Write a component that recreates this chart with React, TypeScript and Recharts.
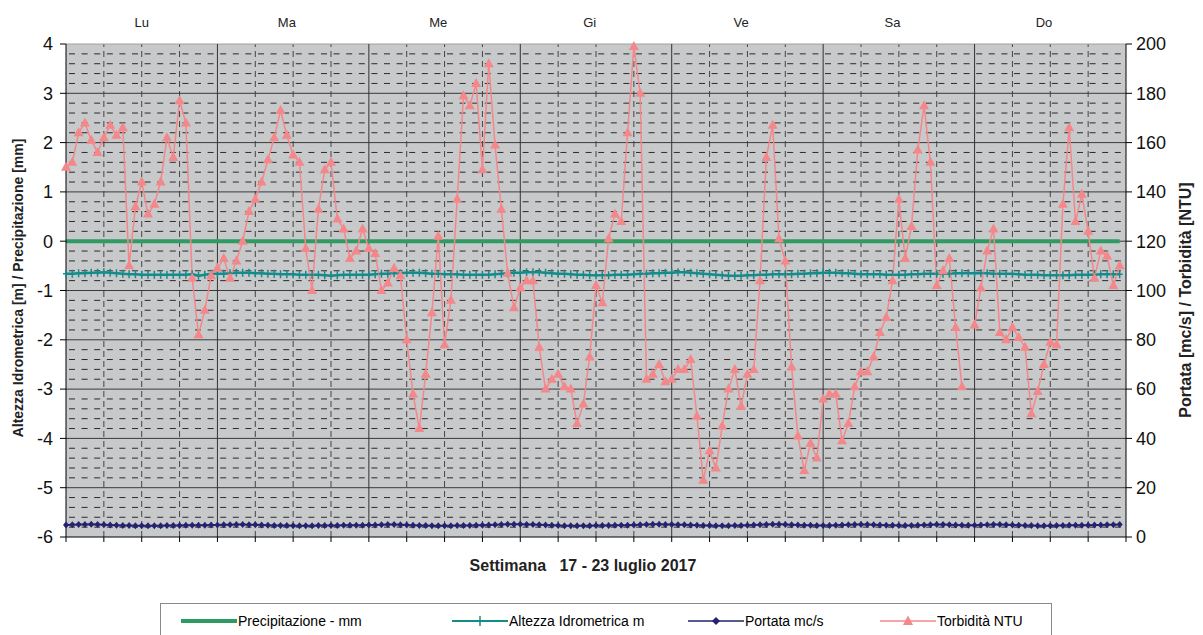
import React from "react";
import {
  ComposedChart,
  Line,
  XAxis,
  YAxis,
  CartesianGrid,
  ReferenceLine,
} from "recharts";

const days = ["Lu", "Ma", "Me", "Gi", "Ve", "Sa", "Do"];
// hour at which each day label sits on the top axis
const dayLabelHours = [12, 35, 59, 83, 107, 131, 155];

// Torbidità NTU, one value per hour (7 x 24)
const torbidita: (number | null)[] = [
  150, 152, 164, 168, 161, 156, 162, 167, 163, 166, 110, 134, 144, 131, 135, 144, 162, 154, 177, 168, 105, 82, 92, 106,
  109, 113, 105, 112, 120, 132, 137, 144, 153, 162, 173, 163, 155, 152, 117, 100, 133, 149, 152, 129, 125, 113, 116, 125,
  117, 115, 100, 103, 109, 106, 80, 58, 44, 66, 91, 122, 78, 96, 137, 179, 175, 184, 149, 192, 159, 133, 107, 93,
  101, 104, 104, 77, 60, 64, 66, 61, 60, 46, 54, 73, 102, 95, 121, 131, 128, 164, 199, 180, 64, 66, 70, 63,
  64, 68, 68, 72, 49, 23, 35, 28, 45, 60, 68, 53, 66, 68, 104, 154, 167, 121, 112, 69, 41, 27, 38, 32,
  56, 58, 58, 39, 46, 61, 67, 67, 73, 83, 89, 104, 137, 113, 126, 157, 175, 152, 102, 108, 113, 85, 61, null,
  86, 101, 116, 125, 83, 80, 85, 81, 77, 50, 59, 70, 79, 78, 135, 166, 128, 139, 124, 105, 116, 114, 102, 110,
];

// Altezza Idrometrica m
const altezza = [
  -0.66, -0.66, -0.65, -0.65, -0.64, -0.64, -0.63, -0.64, -0.65, -0.66, -0.67, -0.67, -0.68, -0.68, -0.68, -0.68, -0.68, -0.68, -0.68, -0.68, -0.67, -0.7, -0.68, -0.66,
  -0.66, -0.66, -0.65, -0.64, -0.64, -0.64, -0.65, -0.65, -0.66, -0.66, -0.67, -0.67, -0.67, -0.68, -0.68, -0.68, -0.68, -0.69, -0.7, -0.69, -0.68, -0.68, -0.68, -0.68,
  -0.68, -0.67, -0.66, -0.66, -0.65, -0.65, -0.64, -0.64, -0.64, -0.65, -0.66, -0.66, -0.67, -0.67, -0.67, -0.68, -0.68, -0.68, -0.68, -0.68, -0.67, -0.66, -0.65, -0.64,
  -0.64, -0.63, -0.63, -0.63, -0.64, -0.65, -0.66, -0.66, -0.67, -0.68, -0.68, -0.69, -0.69, -0.69, -0.69, -0.68, -0.68, -0.68, -0.67, -0.66, -0.66, -0.65, -0.65, -0.64,
  -0.64, -0.63, -0.63, -0.64, -0.65, -0.66, -0.67, -0.68, -0.69, -0.7, -0.7, -0.7, -0.69, -0.69, -0.68, -0.68, -0.67, -0.67, -0.67, -0.67, -0.66, -0.66, -0.65, -0.65,
  -0.64, -0.64, -0.64, -0.65, -0.65, -0.66, -0.67, -0.67, -0.67, -0.67, -0.68, -0.68, -0.68, -0.68, -0.67, -0.67, -0.66, -0.66, -0.66, -0.66, -0.66, -0.65, -0.65, -0.65,
  -0.65, -0.65, -0.65, -0.66, -0.66, -0.66, -0.66, -0.67, -0.68, -0.68, -0.68, -0.69, -0.69, -0.69, -0.69, -0.69, -0.68, -0.68, -0.68, -0.68, -0.67, -0.67, -0.67, -0.67,
];

// Portata mc/s
const portata = [
  4.9, 5.0, 5.1, 5.1, 5.2, 5.1, 5.0, 4.9, 4.8, 4.7, 4.7, 4.6, 4.6, 4.6, 4.6, 4.6, 4.7, 4.7, 4.7, 4.8, 4.8, 4.8, 4.8, 4.9,
  4.9, 5.0, 5.0, 5.1, 5.1, 5.0, 5.0, 4.9, 4.8, 4.7, 4.7, 4.7, 4.6, 4.6, 4.6, 4.6, 4.7, 4.7, 4.7, 4.7, 4.8, 4.8, 4.8, 4.8,
  4.9, 4.9, 5.0, 5.1, 5.1, 5.0, 4.9, 4.8, 4.7, 4.7, 4.6, 4.6, 4.6, 4.6, 4.7, 4.7, 4.7, 4.8, 4.8, 4.9, 5.0, 5.1, 5.2, 5.2,
  5.2, 5.1, 5.1, 5.0, 4.9, 4.8, 4.7, 4.6, 4.6, 4.6, 4.6, 4.6, 4.7, 4.7, 4.7, 4.8, 4.8, 4.8, 4.9, 5.0, 5.1, 5.2, 5.2, 5.1,
  5.1, 5.0, 5.0, 4.9, 4.8, 4.7, 4.7, 4.6, 4.6, 4.6, 4.7, 4.7, 4.8, 4.9, 5.0, 5.1, 5.2, 5.2, 5.1, 5.0, 4.9, 4.8, 4.8, 4.7,
  4.7, 4.7, 4.8, 4.9, 5.0, 5.1, 5.1, 5.1, 5.0, 4.9, 4.8, 4.8, 4.7, 4.7, 4.7, 4.8, 4.9, 5.0, 5.1, 5.1, 5.0, 4.9, 4.8, 4.8,
  4.8, 4.9, 5.0, 5.1, 5.1, 5.0, 4.9, 4.8, 4.7, 4.7, 4.6, 4.6, 4.6, 4.7, 4.7, 4.8, 4.8, 4.8, 4.8, 4.9, 4.9, 5.0, 5.0, 5.1,
];

// Precipitazione mm
const precipitazione = [
  0, 0, 0, 0, 0, 0, 0, 0, 0, 0, 0, 0, 0, 0, 0, 0, 0, 0, 0, 0, 0, 0, 0, 0,
  0, 0, 0, 0, 0, 0, 0, 0, 0, 0, 0, 0, 0, 0, 0, 0, 0, 0, 0, 0, 0, 0, 0, 0,
  0, 0, 0, 0, 0, 0, 0, 0, 0, 0, 0, 0, 0, 0, 0, 0, 0, 0, 0, 0, 0, 0, 0, 0,
  0, 0, 0, 0, 0, 0, 0, 0, 0, 0, 0, 0, 0, 0, 0, 0, 0, 0, 0, 0, 0, 0, 0, 0,
  0, 0, 0, 0, 0, 0, 0, 0, 0, 0, 0, 0, 0, 0, 0, 0, 0, 0, 0, 0, 0, 0, 0, 0,
  0, 0, 0, 0, 0, 0, 0, 0, 0, 0, 0, 0, 0, 0, 0, 0, 0, 0, 0, 0, 0, 0, 0, 0,
  0, 0, 0, 0, 0, 0, 0, 0, 0, 0, 0, 0, 0, 0, 0, 0, 0, 0, 0, 0, 0, 0, 0, 0,
];

const leftTicks = [-6, -5, -4, -3, -2, -1, 0, 1, 2, 3, 4];
const rightTicks = [0, 20, 40, 60, 80, 100, 120, 140, 160, 180, 200];

const data = torbidita.map((t, i) => ({
  h: i,
  torb: t,
  alt: altezza[i],
  port: portata[i],
  prec: precipitazione[i],
}));

const FONT = "'Liberation Sans', Arial, sans-serif";
const GREEN = "#2f9a62";
const TEAL = "#168b8b";
const NAVY = "#23236f";
const CORAL = "#f4878a";
const BG = "#c8c9cb";

// grid positions
const bottomTicks: number[] = [];
for (let h = 0; h <= 168; h += 6) bottomTicks.push(h);
const dayLines = bottomTicks.filter((h) => h % 24 === 0 && h > 0 && h < 168);
const quarterLines = bottomTicks.filter((h) => h % 24 !== 0);
const minorH: number[] = [];
for (let k = -6; k < 4; k++) [0.2, 0.4, 0.6, 0.8].forEach((f) => minorH.push(+(k + f).toFixed(1)));
const majorH = leftTicks.filter((v) => v > -6);

const Tri = (p: any) => {
  const { cx, cy, index, value } = p;
  if (cx == null || cy == null || value == null) return <g key={`t${index}`} />;
  return (
    <polygon
      key={`t${index}`}
      points={`${cx},${cy - 5.5} ${cx - 5},${cy + 3.5} ${cx + 5},${cy + 3.5}`}
      fill={CORAL}
    />
  );
};

const Plus = (p: any) => {
  const { cx, cy, index } = p;
  if (cx == null || cy == null) return <g key={`p${index}`} />;
  return (
    <path
      key={`p${index}`}
      d={`M${cx},${cy - 4}V${cy + 4}M${cx - 3},${cy}H${cx + 3}`}
      stroke={TEAL}
      strokeWidth={1.5}
    />
  );
};

const Diamond = (p: any) => {
  const { cx, cy, index } = p;
  if (cx == null || cy == null) return <g key={`d${index}`} />;
  return (
    <polygon
      key={`d${index}`}
      points={`${cx},${cy - 3.5} ${cx + 3},${cy} ${cx},${cy + 3.5} ${cx - 3},${cy}`}
      fill={NAVY}
    />
  );
};

const LegendItem = ({
  left,
  label,
  color,
  width,
  marker,
}: {
  left: number;
  label: string;
  color: string;
  width: number;
  marker: React.ReactNode;
}) => (
  <div style={{ position: "absolute", left, top: 9, display: "flex", alignItems: "center" }}>
    <svg width={56} height={14}>
      <line x1={0} y1={7} x2={56} y2={7} stroke={color} strokeWidth={width} />
      {marker}
    </svg>
    <span style={{ fontSize: 14, color: "#000", marginLeft: 1 }}>{label}</span>
  </div>
);

export default function App() {
  return (
    <div style={{ position: "absolute", left: 0, top: 0, width: 1203, height: 635, background: "#fff", fontFamily: FONT, overflow: "hidden" }}>
      <ComposedChart
        width={1203}
        height={597}
        data={data}
        margin={{ top: 0, right: 0, bottom: 0, left: 0 }}
        style={{ fontFamily: FONT }}
      >
        <CartesianGrid horizontal={false} vertical={false} fill={BG} xAxisId="b" yAxisId="L" />
        <XAxis
          xAxisId="b"
          dataKey="h"
          type="number"
          domain={[0, 168]}
          ticks={bottomTicks}
          interval={0}
          height={60}
          tickSize={5}
          tickFormatter={() => ""}
          stroke="#000"
          label={{
            content: () => (
              <text x={583} y={571} textAnchor="middle" fontSize={16} fontWeight="bold" fill="#222" style={{ whiteSpace: "pre" }}>
                {"Settimana   17 - 23 luglio 2017"}
              </text>
            ),
          }}
        />
        <XAxis
          xAxisId="t"
          dataKey="h"
          type="number"
          orientation="top"
          domain={[0, 168]}
          ticks={dayLabelHours}
          interval={0}
          height={44}
          axisLine={false}
          tickLine={false}
          tick={(p: any) => (
            <text key={p.index} x={p.x} y={27} textAnchor="middle" fontSize={13} fill="#222">
              {days[p.index]}
            </text>
          )}
        />
        <YAxis
          yAxisId="L"
          domain={[-6, 4]}
          ticks={leftTicks}
          interval={0}
          width={66}
          tickSize={6}
          tickMargin={7}
          stroke="#000"
          tick={{ fontSize: 18, fill: "#111" }}
          label={{
            content: () => (
              <text x={18} y={288} transform="rotate(-90 18 288)" textAnchor="middle" dominantBaseline="central" fontSize={14} fontWeight="bold" fill="#222">
                Altezza Idrometrica [m] / Precipitazione [mm]
              </text>
            ),
          }}
        />
        <YAxis
          yAxisId="R"
          orientation="right"
          domain={[0, 200]}
          ticks={rightTicks}
          interval={0}
          width={77}
          tickSize={6}
          tickMargin={4}
          stroke="#000"
          tick={{ fontSize: 18, fill: "#111" }}
          label={{
            content: () => (
              <text x={1185} y={300} transform="rotate(-90 1185 300)" textAnchor="middle" dominantBaseline="central" fontSize={16} fontWeight="bold" fill="#222">
                Portata [mc/s] / Torbidità [NTU]
              </text>
            ),
          }}
        />

        {minorH.map((v) => (
          <ReferenceLine key={`mh${v}`} xAxisId="b" yAxisId="L" y={v} stroke="#2a2a2a" strokeDasharray="6 6.6" strokeDashoffset={-3} />
        ))}
        {quarterLines.map((h) => (
          <ReferenceLine key={`qv${h}`} xAxisId="b" yAxisId="L" x={h} stroke="#444" strokeDasharray="6 4" />
        ))}
        {majorH.map((v) => (
          <ReferenceLine key={`Mh${v}`} xAxisId="b" yAxisId="L" y={v} stroke={v === 4 ? "#a0a0a0" : "#3a3a3a"} />
        ))}
        {dayLines.map((h) => (
          <ReferenceLine key={`dv${h}`} xAxisId="b" yAxisId="L" x={h} stroke="#333" />
        ))}

        <Line
          xAxisId="b"
          yAxisId="L"
          dataKey="prec"
          stroke={GREEN}
          strokeWidth={4}
          dot={false}
          activeDot={false}
          isAnimationActive={false}
        />
        <Line
          xAxisId="b"
          yAxisId="L"
          dataKey="alt"
          stroke={TEAL}
          strokeWidth={2.5}
          dot={Plus}
          activeDot={false}
          isAnimationActive={false}
        />
        <Line
          xAxisId="b"
          yAxisId="R"
          dataKey="port"
          stroke={NAVY}
          strokeWidth={2}
          dot={Diamond}
          activeDot={false}
          isAnimationActive={false}
        />
        <Line
          xAxisId="b"
          yAxisId="R"
          dataKey="torb"
          stroke={CORAL}
          strokeWidth={1.5}
          dot={Tri}
          activeDot={false}
          connectNulls={false}
          isAnimationActive={false}
        />
      </ComposedChart>

      <div
        style={{
          position: "absolute",
          left: 160,
          top: 603,
          width: 890,
          height: 50,
          border: "1px solid #8a8a8a",
          background: "#fff",
        }}
      >
        <LegendItem left={20} label="Precipitazione - mm" color={GREEN} width={4} marker={null} />
        <LegendItem
          left={291}
          label="Altezza Idrometrica m"
          color={TEAL}
          width={2}
          marker={<path d="M28,2V12M24,7H32" stroke={TEAL} strokeWidth={1.5} />}
        />
        <LegendItem
          left={527}
          label="Portata mc/s"
          color={NAVY}
          width={1.5}
          marker={<polygon points="28,3 32,7 28,11 24,7" fill={NAVY} />}
        />
        <LegendItem
          left={719}
          label="Torbidità NTU"
          color={CORAL}
          width={1.5}
          marker={<polygon points="28,1.5 33,11 23,11" fill={CORAL} />}
        />
      </div>
    </div>
  );
}
